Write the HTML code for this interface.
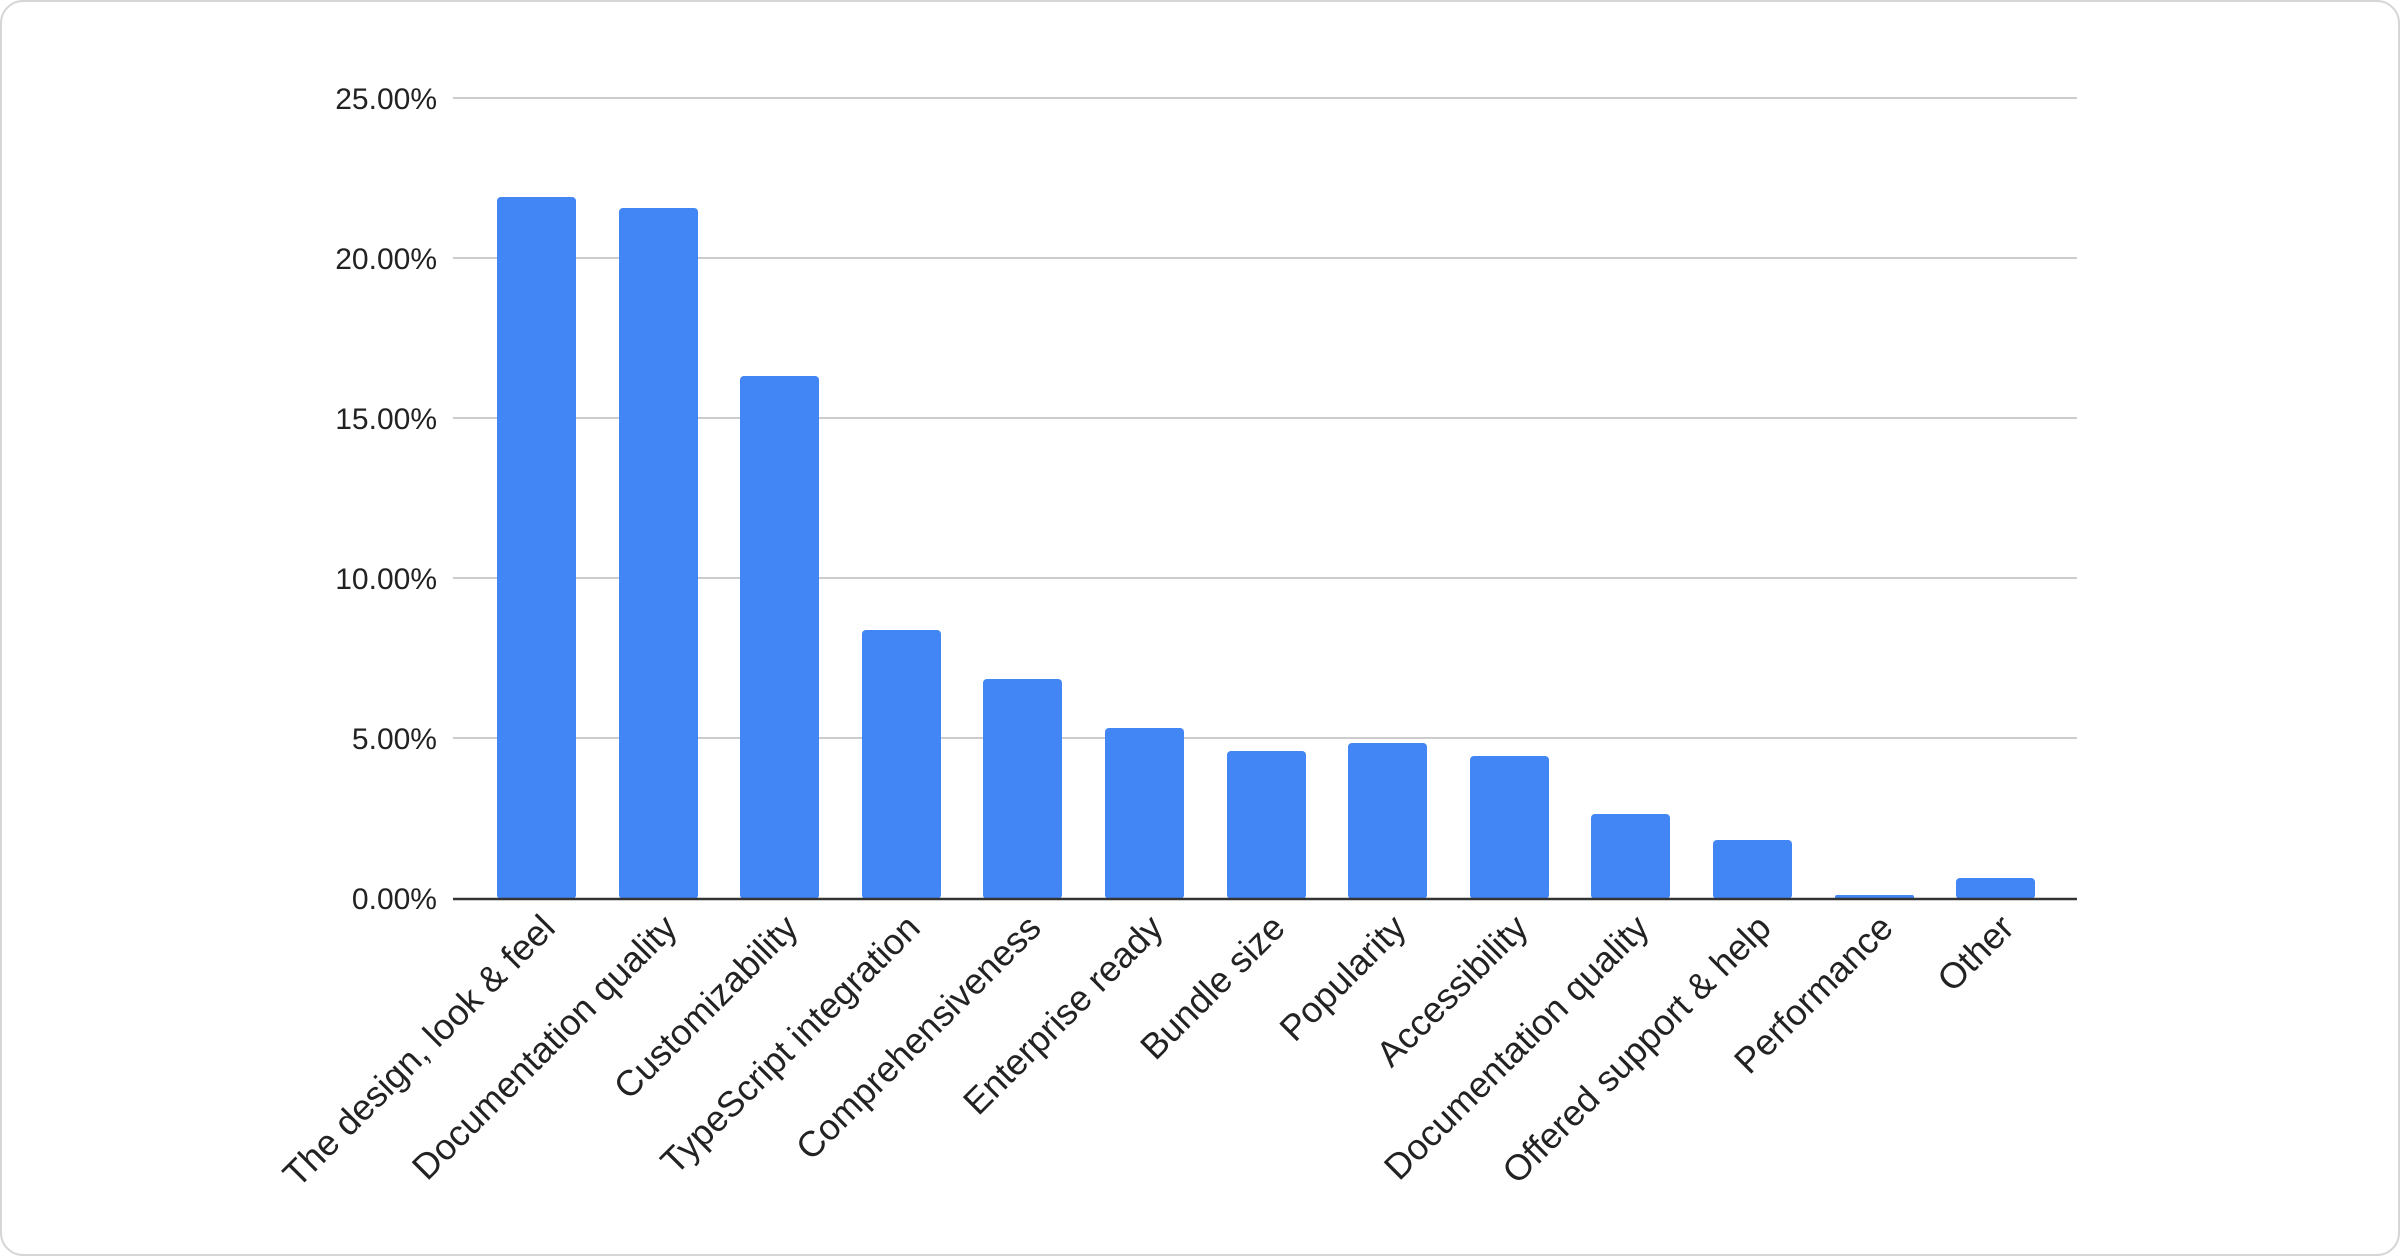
<!DOCTYPE html>
<html><head><meta charset="utf-8"><style>
html,body{margin:0;padding:0;background:#fff;}
svg{display:block;}
text{font-family:"Liberation Sans",Arial,sans-serif;fill:#222;}
</style></head><body>
<svg width="2400" height="1256" viewBox="0 0 2400 1256" xmlns="http://www.w3.org/2000/svg">
<rect x="1" y="1" width="2398" height="1254" rx="22" ry="22" fill="#fff" stroke="#d6d6d6" stroke-width="2"/>
<g stroke="#cccccc" stroke-width="2">
<line x1="453" y1="98" x2="2077" y2="98"/>
<line x1="453" y1="258" x2="2077" y2="258"/>
<line x1="453" y1="418" x2="2077" y2="418"/>
<line x1="453" y1="578" x2="2077" y2="578"/>
<line x1="453" y1="738" x2="2077" y2="738"/>
</g>
<g font-size="30" text-anchor="end">
<text x="437" y="109">25.00%</text>
<text x="437" y="269">20.00%</text>
<text x="437" y="429">15.00%</text>
<text x="437" y="589">10.00%</text>
<text x="437" y="749">5.00%</text>
<text x="437" y="909">0.00%</text>
</g>
<g fill="#4285f4">
<rect x="497" y="197" width="79" height="702" rx="4"/>
<rect x="619" y="208" width="79" height="691" rx="4"/>
<rect x="740" y="376" width="79" height="523" rx="4"/>
<rect x="862" y="630" width="79" height="269" rx="4"/>
<rect x="983" y="679" width="79" height="220" rx="4"/>
<rect x="1105" y="728" width="79" height="171" rx="4"/>
<rect x="1227" y="751" width="79" height="148" rx="4"/>
<rect x="1348" y="743" width="79" height="156" rx="4"/>
<rect x="1470" y="756" width="79" height="143" rx="4"/>
<rect x="1591" y="814" width="79" height="85" rx="4"/>
<rect x="1713" y="840" width="79" height="59" rx="4"/>
<rect x="1835" y="895" width="79" height="4" rx="2"/>
<rect x="1956" y="878" width="79" height="21" rx="4"/>
</g>
<line x1="453" y1="899" x2="2077" y2="899" stroke="#333" stroke-width="2.5"/>
<g font-size="36" text-anchor="end">
<text transform="translate(557,930) rotate(-45)">The design, look &amp; feel</text>
<text transform="translate(679,930) rotate(-45)">Documentation quality</text>
<text transform="translate(800,930) rotate(-45)">Customizability</text>
<text transform="translate(922,930) rotate(-45)">TypeScript integration</text>
<text transform="translate(1043,930) rotate(-45)">Comprehensiveness</text>
<text transform="translate(1165,930) rotate(-45)">Enterprise ready</text>
<text transform="translate(1287,930) rotate(-45)">Bundle size</text>
<text transform="translate(1408,930) rotate(-45)">Popularity</text>
<text transform="translate(1530,930) rotate(-45)">Accessibility</text>
<text transform="translate(1651,930) rotate(-45)">Documentation quality</text>
<text transform="translate(1773,930) rotate(-45)">Offered support &amp; help</text>
<text transform="translate(1895,930) rotate(-45)">Performance</text>
<text transform="translate(2016,930) rotate(-45)">Other</text>
</g>
</svg>
</body></html>
